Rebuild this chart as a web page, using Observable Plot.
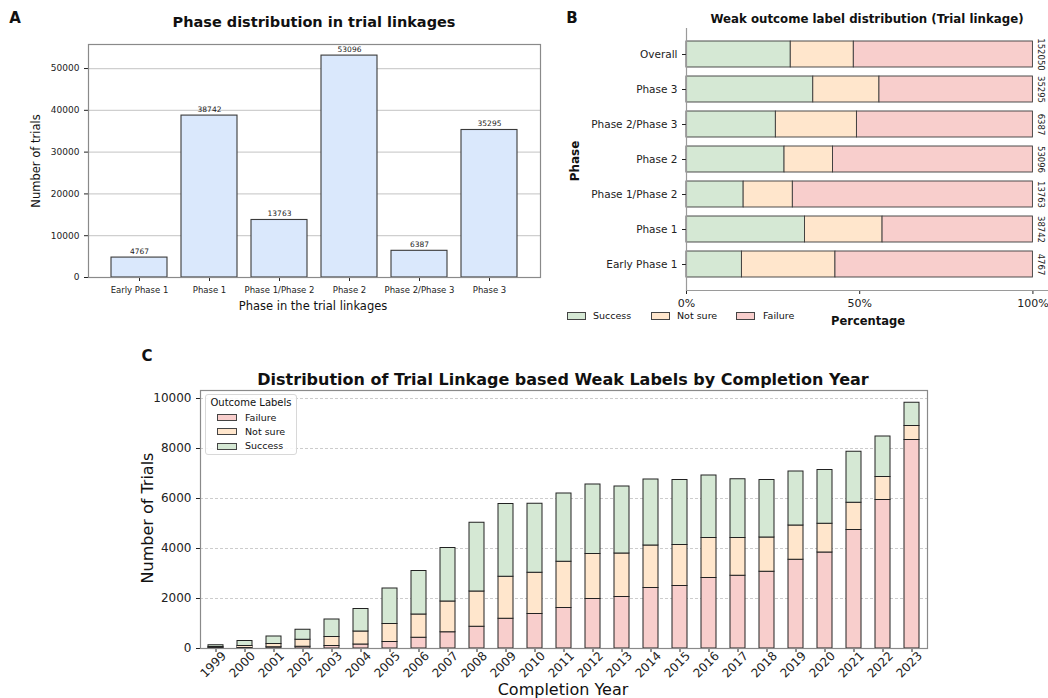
<!DOCTYPE html>
<html><head><meta charset="utf-8">
<script src="https://cdn.jsdelivr.net/npm/d3@7"></script>
<script src="https://cdn.jsdelivr.net/npm/@observablehq/plot@0.6"></script>
<style>
body{margin:0;background:#fff;font-family:"DejaVu Sans",sans-serif;color:#111;}
#root{position:relative;width:1048px;height:698px;overflow:hidden;background:#fff;}
.lbl{position:absolute;white-space:nowrap;transform-origin:center center;line-height:1;}
.sw{position:absolute;box-sizing:border-box;border:1px solid #444;}
</style></head><body><div id="root"></div>
<script>
// ---------- Panel A data ----------
const phasesA = ["Early Phase 1","Phase 1","Phase 1/Phase 2","Phase 2","Phase 2/Phase 3","Phase 3"];
const countsA = [4767,38742,13763,53096,6387,35295];
const ticksA = [0,10000,20000,30000,40000,50000];

// ---------- Panel B data ----------
const phasesB = ["Overall","Phase 3","Phase 2/Phase 3","Phase 2","Phase 1/Phase 2","Phase 1","Early Phase 1"];
const countsB = [152050,35295,6387,53096,13763,38742,4767];
const successPct = [30.1,36.6,25.8,28.3,16.5,34.2,16.0];
const notSurePct = [18.2,19.1,23.4,14.0,14.2,22.4,27.0];
const failurePct = [51.7,44.3,50.8,57.7,69.3,43.4,57.0];
const ticksB = [0,50,100];

// ---------- Panel C data ----------
const years = ["1999","2000","2001","2002","2003","2004","2005","2006","2007","2008","2009","2010","2011","2012","2013","2014","2015","2016","2017","2018","2019","2020","2021","2022","2023"];
const failureC = [20,20,50,70,100,160,260,430,650,870,1190,1380,1620,1980,2060,2420,2500,2820,2910,3070,3550,3840,4740,5940,8340];
const notSureC = [40,80,130,280,360,520,720,930,1230,1410,1680,1650,1850,1800,1740,1700,1640,1600,1510,1370,1370,1150,1090,920,560];
const successC = [70,200,300,400,700,900,1420,1740,2140,2750,2910,2760,2730,2780,2680,2640,2600,2500,2350,2300,2160,2150,2040,1620,930];
const ticksC = [0,2000,4000,6000,8000,10000];

const labels = ["Success","Not sure","Failure"];
const colors = ["#d5e8d4","#ffe6cc","#f8cecc"];
const barBlue = "#dae8fc";

const root = document.getElementById("root");
const FONT = "DejaVu Sans";

function place(svg, left, top){
  svg.style.position = "absolute";
  svg.style.left = left + "px";
  svg.style.top = top + "px";
  svg.style.maxWidth = "none";
  root.appendChild(svg);
}

// ---------- Panel A ----------
const dataA = phasesA.map((p,i)=>({phase:p, count:countsA[i]}));
const plotA = Plot.plot({
  width: 545, height: 320,
  marginLeft: 88, marginRight: 5, marginTop: 44, marginBottom: 43,
  style: {fontFamily: FONT, fontSize: "9px", color: "#222", background: "transparent"},
  x: {type: "band", domain: phasesA, paddingInner: 0.2, paddingOuter: 0.29, label: null},
  y: {domain: [0, 55750], label: null},
  marks: [
    Plot.gridY(ticksA.slice(1), {stroke: "#cfcfcf", strokeOpacity: 1, strokeWidth: 1.2}),
    Plot.barY(dataA, {x: "phase", y: "count", fill: barBlue, stroke: "#3a3a3a", strokeWidth: 1.1}),
    Plot.text(dataA, {x: "phase", y: "count", text: d => String(d.count), lineAnchor: "bottom", dy: -4, fontSize: 7.5, fill: "#222"}),
    Plot.axisY({ticks: ticksA, tickFormat: d3.format("d"), tickSize: 4, fontSize: 9, label: null}),
    Plot.axisX({tickSize: 4, fontSize: 8.5, label: null}),
    Plot.frame({stroke: "#8a8a8a", strokeWidth: 1.2})
  ]
});
place(plotA, 0, 0);

// ---------- Panel B ----------
const dataB = phasesB.flatMap((p,i)=>[
  {phase:p, label:"Success", v:successPct[i]},
  {phase:p, label:"Not sure", v:notSurePct[i]},
  {phase:p, label:"Failure", v:failurePct[i]}
]);
const countDataB = phasesB.map((p,i)=>({phase:p, n:countsB[i]}));
const plotB = Plot.plot({
  width: 488, height: 340,
  marginLeft: 126, marginRight: 0, marginTop: 28, marginBottom: 50,
  style: {fontFamily: FONT, fontSize: "10.5px", color: "#222", background: "transparent"},
  x: {domain: [0, 104.5], label: null},
  y: {type: "band", domain: phasesB, paddingInner: 0.27, paddingOuter: 0.31, label: null},
  color: {domain: labels, range: colors},
  marks: [
    Plot.barX(dataB, {y: "phase", x: "v", fill: "label", order: labels, stroke: "#3a3a3a", strokeWidth: 0.9}),
    Plot.text(countDataB, {x: () => 100, y: "phase", text: d => String(d.n), rotate: 90, dx: 7.5, fontSize: 8.5, fill: "#222"}),
    Plot.axisY({tickSize: 4, fontSize: 10.5, label: null}),
    Plot.axisX({ticks: ticksB, tickFormat: d => d + "%", tickSize: 4, fontSize: 11, label: null}),
    Plot.frame({anchor: "left", stroke: "#9a9a9a", strokeWidth: 1.2}),
    Plot.frame({anchor: "bottom", stroke: "#9a9a9a", strokeWidth: 1.2})
  ]
});
place(plotB, 560, 0);

// ---------- Panel C ----------
const dataC = years.flatMap((y,i)=>[
  {year:y, label:"Failure", v:failureC[i]},
  {year:y, label:"Not sure", v:notSureC[i]},
  {year:y, label:"Success", v:successC[i]}
]);
const plotC = Plot.plot({
  width: 1048, height: 338,
  marginLeft: 200, marginRight: 121, marginTop: 30, marginBottom: 50,
  style: {fontFamily: FONT, fontSize: "12px", color: "#222", background: "transparent"},
  x: {type: "band", domain: years, paddingInner: 0.5, paddingOuter: 0.27, label: null},
  y: {domain: [0, 10320], label: null},
  color: {domain: labels, range: colors},
  marks: [
    Plot.gridY(ticksC.slice(1), {stroke: "#cccccc", strokeOpacity: 1, strokeDasharray: "3,2"}),
    Plot.barY(dataC, {x: "year", y: "v", fill: "label", order: ["Failure","Not sure","Success"], stroke: "#222", strokeWidth: 1}),
    Plot.axisY({ticks: ticksC, tickFormat: d3.format("d"), tickSize: 4, fontSize: 12, label: null}),
    Plot.axisX({tickSize: 4, tickFormat: () => "", label: null}),
    Plot.text(years, {x: d => d, frameAnchor: "bottom", rotate: -45, dy: 19, textAnchor: "middle", fontSize: 12, fill: "#222"}),
    Plot.frame({stroke: "#8a8a8a", strokeWidth: 1.2})
  ]
});
place(plotC, 0, 360);

// ---------- Text overlays ----------
function txt(s, cx, cy, size, weight, rot){
  const d = document.createElement("div");
  d.className = "lbl";
  d.textContent = s;
  d.style.left = cx + "px";
  d.style.top = cy + "px";
  d.style.fontSize = size + "px";
  d.style.fontWeight = weight || "normal";
  d.style.transform = "translate(-50%,-50%)" + (rot ? " rotate(" + rot + "deg)" : "");
  root.appendChild(d);
  return d;
}
function txtL(s, x, cy, size){
  const d = document.createElement("div");
  d.className = "lbl";
  d.textContent = s;
  d.style.left = x + "px";
  d.style.top = cy + "px";
  d.style.fontSize = size + "px";
  d.style.transform = "translateY(-50%)";
  root.appendChild(d);
}
function swatch(x, y, w, h, c){
  const s = document.createElement("div");
  s.className = "sw";
  s.style.left = x + "px"; s.style.top = y + "px";
  s.style.width = w + "px"; s.style.height = h + "px";
  s.style.background = c;
  root.appendChild(s);
}

// Panel A texts
txt("A", 15, 18, 15, "bold");
txt("Phase distribution in trial linkages", 314, 22, 14.5, "bold");
txt("Number of trials", 37, 161, 11.5, "normal", -90);
txt("Phase in the trial linkages", 313, 307, 11.5);

// Panel B texts
txt("B", 572, 18, 15, "bold");
txt("Weak outcome label distribution (Trial linkage)", 867, 20, 11.8, "bold");
txt("Phase", 575, 161, 12, "bold", -90);
txt("Percentage", 868, 322, 11.5, "bold");
swatch(567, 312, 19, 8, colors[0]); txtL("Success", 593, 316, 9.5);
swatch(651, 312, 19, 8, colors[1]); txtL("Not sure", 677, 316, 9.5);
swatch(736, 312, 19, 8, colors[2]); txtL("Failure", 763, 316, 9.5);

// Panel C texts
txt("C", 147, 356, 15, "bold");
txt("Distribution of Trial Linkage based Weak Labels by Completion Year", 563, 380, 16, "bold");
txt("Number of Trials", 148, 518, 16, "normal", -90);
txt("Completion Year", 563, 690, 16);

// Panel C legend
const box = document.createElement("div");
box.style.cssText = "position:absolute;left:205px;top:394px;width:92px;height:61px;box-sizing:border-box;border:1px solid #d8d8d8;border-radius:3px;background:rgba(255,255,255,0.85);";
root.appendChild(box);
txt("Outcome Labels", 251, 403, 10);
const legC = [["Failure", colors[2]], ["Not sure", colors[1]], ["Success", colors[0]]];
legC.forEach(([n,c],i)=>{
  const cy = 417.5 + i*14.3;
  swatch(217, cy - 3.5, 20, 7, c);
  txtL(n, 245, cy, 9.5);
});
</script>
</body></html>
